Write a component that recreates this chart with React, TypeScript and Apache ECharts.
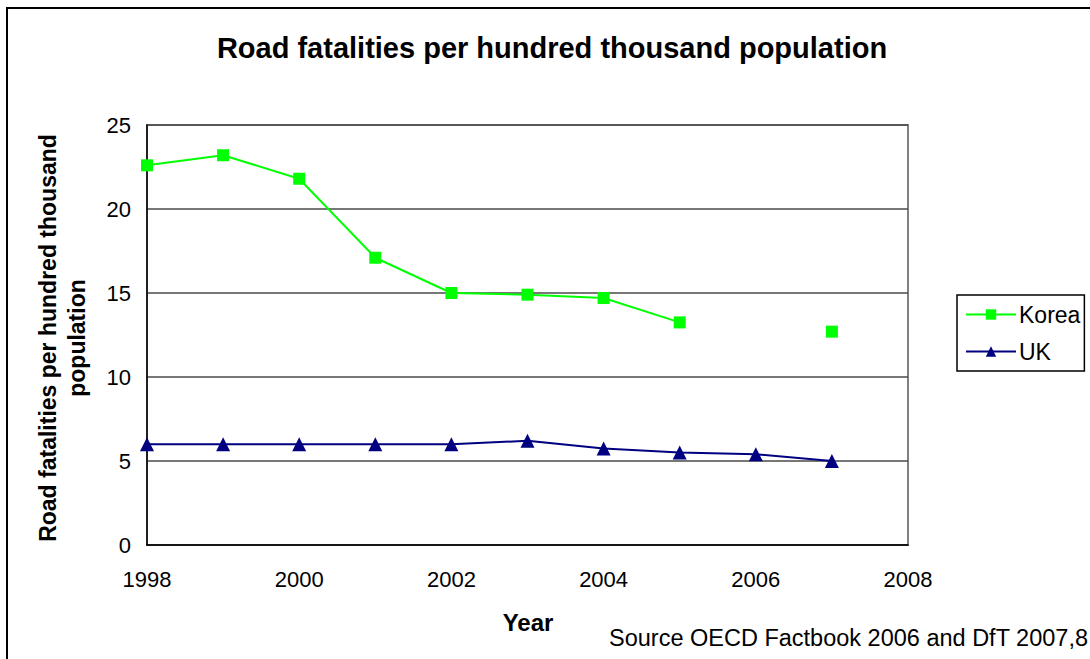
import React, { useEffect, useRef } from "react";
import * as echarts from "echarts";

const years = [1998, 1999, 2000, 2001, 2002, 2003, 2004, 2005, 2006, 2007];
const korea: (number | null)[] = [22.6, 23.2, 21.8, 17.1, 15.0, 14.9, 14.7, 13.25, null, 12.7];
const uk = [6.0, 6.0, 6.0, 6.0, 6.0, 6.2, 5.75, 5.5, 5.4, 5.0];
const titleText = "Road fatalities per hundred thousand population";
const yTitle = "Road fatalities per hundred thousand\npopulation";
const xTitle = "Year";
const sourceText = "Source OECD Factbook 2006 and DfT 2007,8";

const FONT = "'Liberation Sans', Arial, sans-serif";

export default function App() {
  const ref = useRef<HTMLDivElement>(null);
  useEffect(() => {
    const chart = echarts.init(ref.current!, null, { renderer: "svg" });
    chart.setOption({
      animation: false,
      backgroundColor: "#fff",
      textStyle: { fontFamily: FONT },
      grid: { left: 147, right: 182, top: 125, bottom: 114, show: true, borderColor: "#808080", borderWidth: 2 },
      xAxis: {
        type: "value",
        min: 1998,
        max: 2008,
        interval: 2,
        axisLine: { show: true, lineStyle: { color: "#000", width: 1.5 } },
        axisTick: { show: false },
        splitLine: { show: false },
        axisLabel: {
          color: "#000",
          fontSize: 22,
          margin: 23,
          fontFamily: FONT,
          formatter: (v: number) => String(v),
        },
      },
      yAxis: {
        type: "value",
        min: 0,
        max: 25,
        interval: 5,
        axisLine: { show: true, lineStyle: { color: "#000", width: 1.5 } },
        axisTick: { show: false },
        splitLine: { show: true, lineStyle: { color: "#4a4a4a", width: 1.5 } },
        axisLabel: { color: "#000", fontSize: 22, margin: 16, fontFamily: FONT },
      },
      legend: {
        orient: "vertical",
        left: 957,
        top: 295,
        padding: [8, 4, 8, 8],
        itemWidth: 50,
        itemHeight: 13,
        itemGap: 14,
        borderColor: "#000",
        borderWidth: 1.5,
        textStyle: { color: "#000", fontSize: 23, fontFamily: FONT, padding: [0, 0, 0, -2] },
        data: ["Korea", "UK"],
      },
      series: [
        {
          name: "Korea",
          type: "line",
          data: years.map((y, i) => [y, korea[i]]),
          symbol: "rect",
          symbolSize: 12,
          connectNulls: false,
          lineStyle: { color: "#00ff00", width: 2 },
          itemStyle: { color: "#00ff00" },
        },
        {
          name: "UK",
          type: "line",
          data: years.map((y, i) => [y, uk[i]]),
          symbol: "triangle",
          symbolSize: 14,
          lineStyle: { color: "#000080", width: 2 },
          itemStyle: { color: "#000080" },
        },
      ],
      graphic: [
        {
          type: "rect",
          shape: { x: 7, y: 8, width: 1200, height: 800 },
          style: { fill: "none", stroke: "#000", lineWidth: 2 },
          silent: true,
        },
        {
          type: "text",
          x: 552,
          y: 48,
          style: {
            text: titleText,
            font: `bold 29px ${FONT}`,
            fill: "#000",
            textAlign: "center",
            textVerticalAlign: "middle",
          },
        },
        {
          type: "text",
          x: 62,
          y: 338,
          rotation: Math.PI / 2,
          style: {
            text: yTitle,
            font: `bold 23px ${FONT}`,
            lineHeight: 29,
            fill: "#000",
            textAlign: "center",
            textVerticalAlign: "middle",
          },
        },
        {
          type: "text",
          x: 528,
          y: 622,
          style: {
            text: xTitle,
            font: `bold 24px ${FONT}`,
            fill: "#000",
            textAlign: "center",
            textVerticalAlign: "middle",
          },
        },
        {
          type: "text",
          x: 1088,
          y: 638,
          style: {
            text: sourceText,
            font: `23.5px ${FONT}`,
            fill: "#000",
            textAlign: "right",
            textVerticalAlign: "middle",
          },
        },
      ],
    });
    return () => chart.dispose();
  }, []);
  return <div ref={ref} style={{ width: 1090, height: 659, position: "fixed", left: 0, top: 0 }} />;
}
